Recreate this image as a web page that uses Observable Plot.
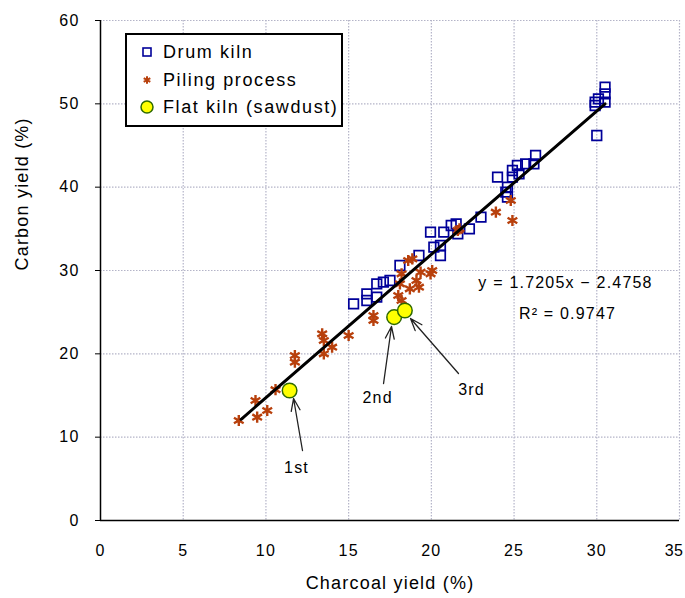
<!DOCTYPE html>
<html><head><meta charset="utf-8">
<script src="https://cdn.jsdelivr.net/npm/d3@7"></script>
<script src="https://cdn.jsdelivr.net/npm/@observablehq/plot@0.6"></script>
<style>
body{margin:0;background:#fff;}
#wrap{position:relative;width:685px;height:598px;font-family:"Liberation Sans",Arial,sans-serif;}
#legend{position:absolute;left:125px;top:33px;width:218px;height:94px;border:2px solid #000;background:#fff;box-sizing:border-box;}
</style></head><body><div id="wrap"><div id="chart"></div><div id="legend"></div></div>
<script>
// Drum kiln
const drumX = [15.3,16.1,16.1,16.7,16.7,17.1,17.5,18.1,19.25,19.95,20.15,20.55,20.55,20.75,21.2,21.5,21.6,22.3,23.0,24.0,24.5,24.6,24.6,24.9,24.9,25.2,25.3,25.7,26.2,26.3,29.9,30.1,30.5,30.5,30.5,30.0,29.9];
const drumY = [26.0,27.2,26.4,28.4,26.8,28.6,28.8,30.6,31.8,34.6,32.8,33.0,31.8,34.6,35.4,35.6,34.4,35.0,36.4,41.2,39.4,40.0,38.8,42.0,41.2,42.6,41.6,42.8,42.8,43.8,50.2,50.6,52.0,51.2,50.2,46.2,49.8];
// Piling process
const pileX = [8.36,9.37,9.47,10.08,10.58,11.75,11.75,13.4,13.5,13.5,14.0,15.0,16.5,16.5,18.0,18.1,18.2,18.2,18.6,18.7,18.85,19.1,19.25,19.35,20.05,19.95,21.6,21.7,23.9,24.8,24.9];
const pileY = [12.0,14.4,12.4,13.2,15.7,19.8,19.0,22.4,21.6,20.0,20.8,22.2,24.6,24.0,27.0,28.4,29.6,26.4,31.2,27.8,31.4,28.8,28.0,29.8,30.0,29.6,34.8,35.0,37.0,38.4,36.0];
// Flat kiln (sawdust)
const flatX = [11.43,17.75,18.4];
const flatY = [15.6,24.4,25.2];
const flatLabels = ["1st","2nd","3rd"];
// annotation positions (data units)
const labelX = [11.85,16.75,22.43];
const labelY = [6.36,14.76,15.72];
const arrowX1 = [12.21,17.11,21.64];
const arrowY1 = [8.4,16.44,17.64];
const arrowX2 = [11.67,17.59,18.74];
const arrowY2 = [14.64,23.28,24.24];
// regression
const slope = 1.7205, intercept = -2.4758, r2 = 0.9747;
const fitRange = [8.5, 30.5];
const xTicks = [0,5,10,15,20,25,30,35];
const yTicks = [0,10,20,30,40,50,60];
const legendLabels = ["Drum kiln","Piling process","Flat kiln (sawdust)"];

const drum = drumX.map((x,i)=>({x,y:drumY[i]}));
const pile = pileX.map((x,i)=>({x,y:pileY[i]}));
const flat = flatX.map((x,i)=>({x,y:flatY[i]}));
const fit = fitRange.map(x=>({x,y:slope*x+intercept}));
const ann = flatLabels.map((t,i)=>({t,lx:labelX[i],ly:labelY[i],x1:arrowX1[i],y1:arrowY1[i],x2:arrowX2[i],y2:arrowY2[i]}));

const blue="#000099", brown="#b8400c";
const font = '"Liberation Sans",Arial,sans-serif';
const chart = Plot.plot({
  width:685, height:598,
  marginLeft:100, marginRight:6, marginTop:20, marginBottom:78,
  style:{fontFamily:font, fontSize:"16px", color:"#000", background:"#fff"},
  x:{domain:[0,35], ticks:xTicks},
  y:{domain:[0,60], ticks:yTicks},
  marks:[
    Plot.ruleX(xTicks.filter(d=>d>0),{stroke:"#b4b4c8",strokeDasharray:"1.5,1.5",strokeWidth:1.2}),
    Plot.ruleY(yTicks.filter(d=>d>0),{stroke:"#b4b4c8",strokeDasharray:"1.5,1.5",strokeWidth:1.2}),
    Plot.axisX({ticks:xTicks, tickSize:0, tickPadding:24, fontSize:16, label:null}),
    Plot.axisY({ticks:yTicks, tickSize:5, tickPadding:16, fontSize:16, label:null}),
    Plot.ruleX([0],{stroke:"#000",strokeWidth:1.5}),
    Plot.ruleY([0],{stroke:"#000",strokeWidth:1.5}),
    Plot.dot(drum,{x:"x",y:"y",symbol:"square",r:5.4,stroke:blue,strokeWidth:1.7,fill:"#fff",fillOpacity:0}),
    Plot.dot(pile,{x:"x",y:"y",symbol:"asterisk",r:5.3,stroke:brown,strokeWidth:2.4}),
    Plot.line(fit,{x:"x",y:"y",stroke:"#000",strokeWidth:3}),
    Plot.dot(flat,{x:"x",y:"y",r:7.3,fill:"#ffff00",stroke:"#2f6a00",strokeWidth:1.5}),
    Plot.arrow(ann,{x1:"x1",y1:"y1",x2:"x2",y2:"y2",stroke:"#222",strokeWidth:1.3,headLength:15,headAngle:40}),
    Plot.text(ann,{x:"lx",y:"ly",text:"t",fontSize:16}),
    Plot.text([`y = ${slope}x − ${Math.abs(intercept)}`],{x:28.11,y:28.56,fontSize:16}),
    Plot.text([`R² = ${r2}`],{x:28.23,y:24.84,fontSize:16}),
    Plot.text(["Charcoal yield (%)"],{frameAnchor:"bottom",dy:68,fontSize:18}),
    Plot.text(["Carbon yield (%)"],{frameAnchor:"left",dx:-78,rotate:-90,fontSize:18})
  ]
});
chart.querySelectorAll("text").forEach(t=>{
  t.style.letterSpacing="1.2px";
  // keep the last x tick label ("35") inside the picture
  if (t.textContent.trim()==="35") { t.setAttribute("text-anchor","end"); t.setAttribute("dx","4"); t.style.letterSpacing="0.5px"; }
});
document.getElementById("chart").appendChild(chart);

// legend
const lg = d3.select("#legend").append("svg").attr("width",214).attr("height",90);
const ys=[17,45,72];
lg.append("rect").attr("x",22-4-2).attr("y",ys[0]-4).attr("width",8).attr("height",8).attr("fill","none").attr("stroke",blue).attr("stroke-width",1.6);
lg.append("path").attr("transform",`translate(20,${ys[1]})`).attr("d",d3.symbol(d3.symbolAsterisk,40)()).attr("stroke",brown).attr("stroke-width",2).attr("fill","none");
lg.append("circle").attr("cx",20).attr("cy",ys[2]).attr("r",6).attr("fill","#ffff00").attr("stroke","#2f6a00").attr("stroke-width",1.5);
legendLabels.forEach((t,i)=>lg.append("text").attr("x",36).attr("y",ys[i]).attr("dy","0.35em").attr("font-family",font).attr("font-size",18).attr("letter-spacing","1.6px").text(t));
</script></body></html>
